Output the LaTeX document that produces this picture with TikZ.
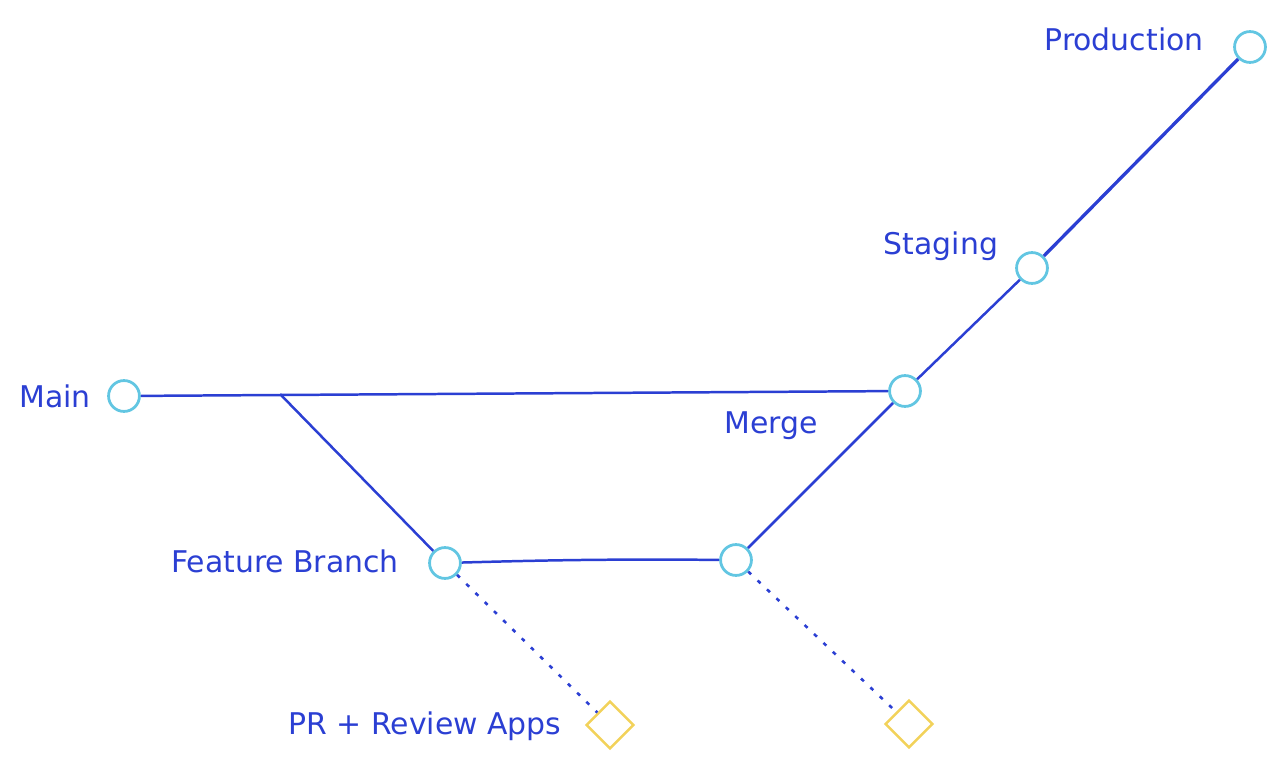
\documentclass[tikz,border=0pt]{standalone}
\usepackage{fontspec}
\setmainfont{DejaVu Sans}
\usetikzlibrary{shapes.geometric}
\definecolor{trait}{HTML}{2B3FD3}
\definecolor{rond}{HTML}{62C6E2}
\definecolor{jaune}{HTML}{F2D25A}
\tikzset{
  etape/.style={circle, draw=rond, line width=2.8pt, minimum size=31pt, inner sep=0pt},
  revue/.style={diamond, draw=jaune, line width=2.6pt, minimum size=48pt, inner sep=0pt},
  lien/.style={draw=trait, line width=2.5pt},
  pointille/.style={draw=trait, line width=2.6pt, dash pattern=on 4pt off 9pt},
  texte/.style={text=trait, font=\fontsize{30}{34}\selectfont}
}
\begin{document}
\begin{tikzpicture}[x=1bp, y=-1bp]
    \useasboundingbox (0,0) rectangle (1285,769);
    % Etapes
    \node [etape] (main)    at (124,396) {};
    \node [etape] (merge)   at (905,391) {};
    \node [etape] (staging) at (1032,268) {};
    \node [etape] (prod)    at (1250,47) {};
    \node [etape] (feat)    at (445,563) {};
    \node [etape] (fin)     at (736,560) {};
    \coordinate (branche) at (280,394);
    % Review apps
    \node [revue] (appA) at (610,725) {};
    \node [revue] (appB) at (909,724) {};
    % Liens
    \draw [lien] (main) -- (merge) ;
    \draw [lien] (branche) -- (feat) ;
    \draw [lien] (feat) to[bend left=1] (fin) ;
    \draw [lien] (fin) -- (merge) ;
    \draw [lien] (merge) -- (staging) ;
    \draw [lien, line width=3.3pt] (staging) -- (prod) ;
    \draw [pointille] (feat) -- (appA) ;
    \draw [pointille] (fin) -- (appB) ;
    % Textes
    \node [texte] (tprod)    at (1124,39)  {Production} ;
    \node [texte] (tstaging) at (941,246)  {Staging} ;
    \node [texte] (tmain)    at (55,396)   {Main} ;
    \node [texte] (tmerge)   at (771,426)  {Merge} ;
    \node [texte] (tfeat)    at (285,561)  {Feature Branch} ;
    \node [texte] (tapps)    at (425,726)  {PR + Review Apps} ;
\end{tikzpicture}
\end{document}
